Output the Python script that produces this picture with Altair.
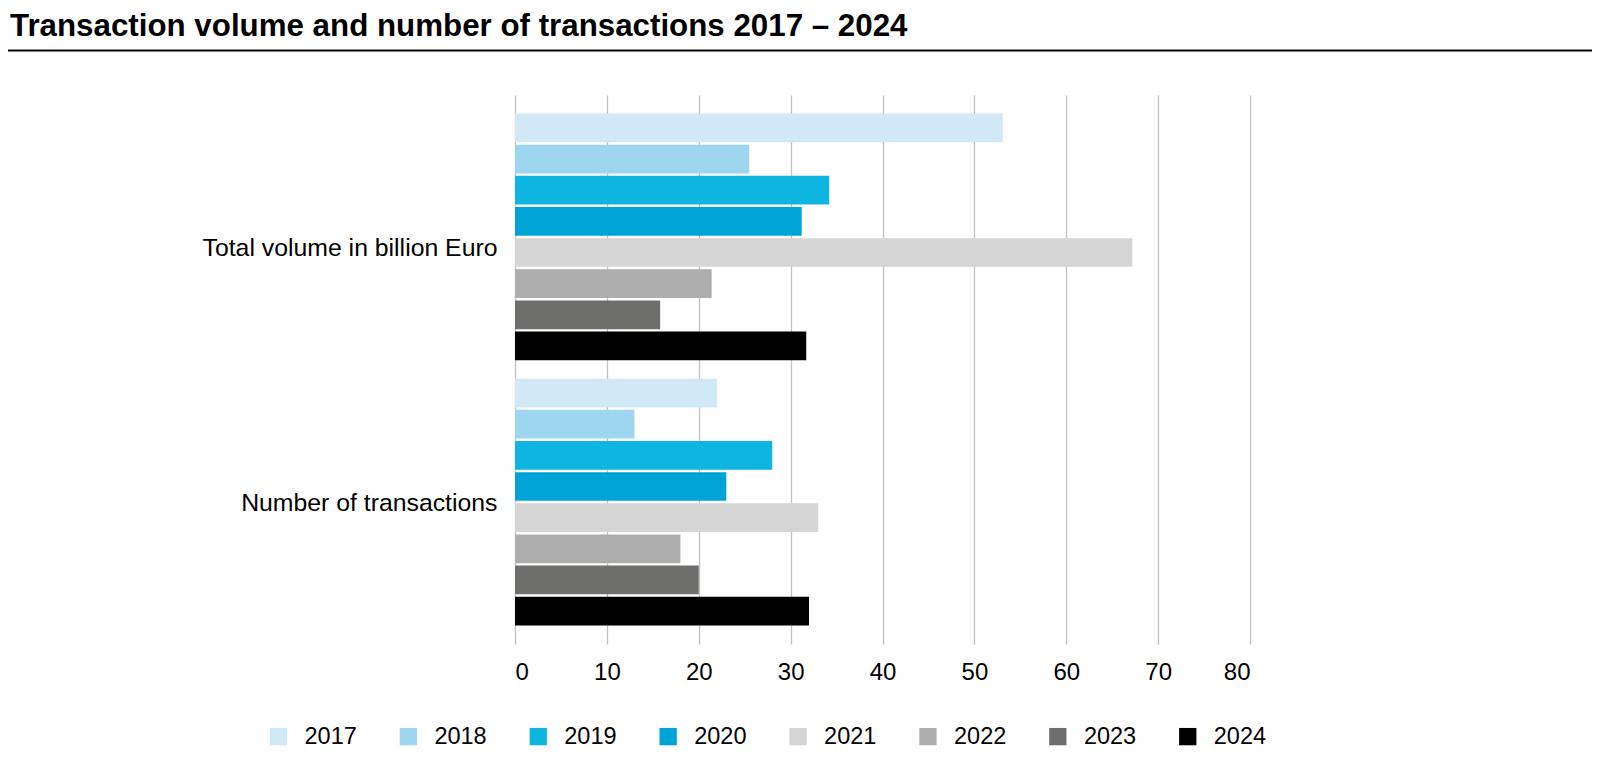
import altair as alt
import pandas as pd

title_text = "Transaction volume and number of transactions 2017 – 2024"
categories = ["Total volume in billion Euro", "Number of transactions"]
years = ["2017", "2018", "2019", "2020", "2021", "2022", "2023", "2024"]
volume = [53.1, 25.5, 34.2, 31.2, 67.2, 21.4, 15.8, 31.7]
transactions = [22, 13, 28, 23, 33, 18, 20, 32]
colors = ["#d1e9f6", "#9dd6ee", "#0db5e0", "#00a3d5", "#d5d5d5", "#adadad", "#6e6e6d", "#000000"]
x_ticks = [0, 10, 20, 30, 40, 50, 60, 70, 80]

rows = []
for cat, vals in zip(categories, [volume, transactions]):
    for yr, v in zip(years, vals):
        rows.append({"category": cat, "year": yr, "value": v})
df = pd.DataFrame(rows)

FONT = "Liberation Sans, Arial, Helvetica, sans-serif"

bars = alt.Chart(df).mark_bar().encode(
    x=alt.X(
        "value:Q",
        scale=alt.Scale(domain=[0, 80], nice=False),
        axis=alt.Axis(
            values=x_ticks, title=None, grid=True, gridColor="#c2c2c2", gridWidth=1.3,
            domain=False, ticks=False, labelFontSize=24, labelPadding=16.5,
            labelColor="black", labelFont=FONT,
        ),
    ),
    y=alt.Y(
        "category:N",
        sort=categories,
        scale=alt.Scale(paddingInner=0.069, paddingOuter=0.0697),
        axis=alt.Axis(
            title=None, domain=False, ticks=False, labelFontSize=24.8, labelPadding=18,
            labelLimit=450, labelColor="black", labelFont=FONT,
            labelOffset={"condition": {"test": "datum.value === 'Total volume in billion Euro'", "value": 12.5}, "value": 2},
        ),
    ),
    yOffset=alt.YOffset("year:N", sort=years, scale=alt.Scale(paddingInner=0.078, paddingOuter=0)),
    color=alt.Color(
        "year:N",
        sort=years,
        scale=alt.Scale(domain=years, range=colors),
        legend=alt.Legend(
            title=None, orient="none", legendX=-248.3, legendY=629.5, direction="horizontal",
            columns=8, symbolType="square", symbolSize=300, symbolStrokeWidth=0,
            labelFontSize=23.5, labelFont=FONT, labelColor="black", labelOffset=14.3,
            columnPadding=38.9,
        ),
    ),
)

title_df = pd.DataFrame({"t": [title_text]})
title = alt.Chart(title_df).mark_text(
    align="left", baseline="alphabetic", fontSize=31.3, fontWeight="bold", font=FONT, color="black"
).encode(x=alt.value(-505), y=alt.value(-59), text="t:N")

rule = alt.Chart(pd.DataFrame({"a": [0]})).mark_rule(color="black", strokeWidth=2).encode(
    x=alt.value(-507), x2=alt.value(1077), y=alt.value(-44.5)
)

chart = alt.layer(rule, title, bars).properties(
    width=735, height=549,
    padding={"left": 507, "top": 87, "right": 342, "bottom": 110},
    autosize=alt.AutoSizeParams(type="none"),
).configure_view(stroke=None)

chart.save("out.html", embed_options={"renderer": "svg", "actions": False})
